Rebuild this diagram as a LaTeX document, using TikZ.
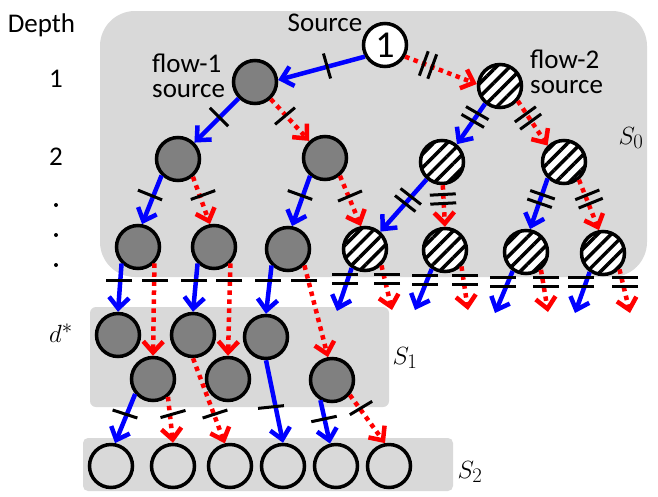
\documentclass[tikz,border=0pt]{standalone}
\usepackage{fontspec}
\setmainfont{Carlito}
\usetikzlibrary{arrows.meta,patterns.meta,calc}
\definecolor{bgc}{RGB}{217,217,217}
\definecolor{ndc}{RGB}{128,128,128}
\newcommand\tkA[3]{\draw[tickst] (#1,#2) ++(#3:13) -- ++(#3+180:26);}
\newcommand\tkB[3]{\draw[tickst] (#1,#2) ++(#3+90:4.5) ++(#3:13) -- ++(#3+180:26);
  \draw[tickst] (#1,#2) ++(#3-90:4.5) ++(#3:13) -- ++(#3+180:26);}
\begin{document}
\begin{tikzpicture}[x=1pt,y=-1pt,
  box/.style={fill=bgc, draw=none},
  gnode/.style={circle, draw=black, line width=3.5pt, fill=ndc, minimum size=43pt, inner sep=0pt},
  hnode/.style={circle, draw=black, line width=3.5pt, minimum size=43pt, inner sep=0pt,
    preaction={fill=white}, pattern={Lines[angle=45,distance=9.5pt,line width=3.5pt]}, pattern color=black},
  enode/.style={circle, draw=black, line width=3.5pt, minimum size=43pt, inner sep=0pt},
  bedge/.style={draw=blue, line width=4.5pt, -{Straight Barb[length=11pt,width=20pt]}},
  redge/.style={draw=red, line width=4.5pt, dash pattern=on 4.5pt off 4.5pt, -{Straight Barb[length=11pt,width=20pt]}},
  tickst/.style={draw=black, line width=3pt},
  lbl/.style={inner sep=0pt, font=\fontsize{27}{25}\selectfont},
]
\useasboundingbox (0,0) rectangle (658,496);
% boxes
\path[box, rounded corners=35pt] (100,11) rectangle (647,277);
\path[box, rounded corners=6pt] (90,307) rectangle (389,407);
\path[box, rounded corners=5pt] (83,438) rectangle (453,491);
% labels
\node[lbl, anchor=base] (tdepth) at (41.5,32) {Depth};
\node[lbl, anchor=base] (t1) at (56,87) {1};
\node[lbl, anchor=base] (t2) at (56,165) {2};
\fill (56,205) circle (2);
\fill (56,235) circle (2);
\fill (56,265) circle (2);
\node[lbl, font=\fontsize{30}{30}\selectfont] (tdstar) at (61,333) {$d^*$};
\node[lbl, anchor=base] (tsource) at (325,31) {Source};
\node[lbl, anchor=west, align=left] (tf1) at (152,76) {flow-1\\source};
\node[lbl, anchor=west, align=left] (tf2) at (530,72) {flow-2\\source};
\node[lbl, font=\fontsize{28}{28}\selectfont] (ts0) at (631,138) {$S_0$};
\node[lbl, font=\fontsize{28}{28}\selectfont] (ts1) at (405,358) {$S_1$};
\node[lbl, font=\fontsize{28}{28}\selectfont] (ts2) at (470,472) {$S_2$};
% nodes
\node[enode, fill=white, font=\fontsize{38}{38}\selectfont] (src) at (385,45) {1};
\node[gnode] (f1) at (255,82) {};
\node[hnode] (f2) at (500,86) {};
\node[gnode] (g2a) at (178,159) {};
\node[gnode] (g2b) at (325,158) {};
\node[hnode] (h2a) at (442,162) {};
\node[hnode] (h2b) at (564,162) {};
\node[gnode] (g3a) at (138,247) {};
\node[gnode] (g3b) at (214,247) {};
\node[gnode] (g3c) at (288,249) {};
\node[hnode] (h3a) at (365,249) {};
\node[hnode] (h3b) at (445,250) {};
\node[hnode] (h3c) at (526,252) {};
\node[hnode] (h3d) at (603,253) {};
\node[gnode] (d1) at (118,335) {};
\node[gnode] (d2) at (193,335) {};
\node[gnode] (d3) at (266,337) {};
\node[gnode] (e1) at (153,379) {};
\node[gnode] (e2) at (228,379) {};
\node[gnode] (e3) at (332,380) {};
\node[enode] (b1) at (111,466) {};
\node[enode] (b2) at (173,466) {};
\node[enode] (b3) at (230,466) {};
\node[enode] (b4) at (283,466) {};
\node[enode] (b5) at (336,466) {};
\node[enode] (b6) at (389,466) {};
\coordinate (x1b) at (337,311);
\coordinate (x1r) at (392,310);
\coordinate (x2b) at (415,310);
\coordinate (x2r) at (468,310);
\coordinate (x3b) at (495,313);
\coordinate (x3r) at (548,312);
\coordinate (x4b) at (575,313);
\coordinate (x4r) at (630,313);
% edges
\draw[bedge] (src.-150) -- (f1.5);
\draw[redge] (src.-30) -- (f2.175);
\draw[bedge] (f1) -- (g2a);
\draw[redge] (f1) -- (g2b);
\draw[bedge] (g2a.-135) -- (g3a.80);
\draw[redge] (g2a.-50) -- (g3b.100);
\draw[bedge] (g2b.-130) -- (g3c.80);
\draw[redge] (g2b.-50) -- (h3a.100);
\draw[bedge] (f2.-130) -- (h2a.50);
\draw[redge] (f2.-40) -- (h2b.135);
\draw[bedge] (h2a) -- (h3a);
\draw[redge] (h2a.-88) -- (h3b.north);
\draw[bedge] (h2b.-135) -- (h3c.80);
\draw[redge] (h2b.-50) -- (h3d.100);
\draw[bedge] (g3a.-135) -- (d1.north);
\draw[redge] (g3a.-45) -- (e1.north);
\draw[bedge] (g3b.-135) -- (d2.north);
\draw[redge] (g3b.-45) -- (e2.north);
\draw[bedge] (g3c.-135) -- (d3.north);
\draw[redge] (g3c.-45) -- (e3.100);
\draw[bedge] (h3a.-125) -- (x1b);
\draw[redge] (h3a.-45) -- (x1r);
\draw[bedge] (h3b.-125) -- (x2b);
\draw[redge] (h3b.-45) -- (x2r);
\draw[bedge] (h3c.-125) -- (x3b);
\draw[redge] (h3c.-50) -- (x3r);
\draw[bedge] (h3d.-125) -- (x4b);
\draw[redge] (h3d.-45) -- (x4r);
\draw[bedge] (e1.-140) -- (b1.80);
\draw[redge] (e1.-50) -- (b2.north);
\draw[redge] (d2.south) -- (b3.103);
\draw[bedge] (d3.south) -- (b4.north);
\draw[bedge] (e3.-120) -- (b5.105);
\draw[redge] (e3.-40) -- (b6.100);
% ticks
\tkA{327}{66}{74}
\tkB{428}{65}{110}
\tkA{219}{117}{45}
\tkA{285}{116}{-40}
\tkA{150}{195}{22}
\tkA{203}{195}{-20}
\tkA{300}{195}{20}
\tkA{350}{196}{-23}
\tkB{475}{117}{30}
\tkB{528}{118}{-36}
\tkB{408}{200}{38}
\tkB{443}{199}{-3}
\tkB{541}{199}{19}
\tkB{589}{199}{-22}
\tkA{119}{280}{0}
\tkA{155}{280}{0}
\tkA{194}{280}{0}
\tkA{229}{280}{0}
\tkA{268}{280}{0}
\tkA{304}{280}{0}
\tkB{345}{279}{0}
\tkB{387}{279}{0}
\tkB{425}{280}{0}
\tkB{465}{280}{0}
\tkB{503}{282}{0}
\tkB{546}{282}{0}
\tkB{581}{282}{0}
\tkB{625}{282}{0}
\tkA{125}{414}{18}
\tkA{173}{414}{-16}
\tkA{215}{414}{-18}
\tkA{271}{407}{-6}
\tkA{324}{419}{-12}
\tkA{361}{408}{-31}
\end{tikzpicture}
\end{document}
